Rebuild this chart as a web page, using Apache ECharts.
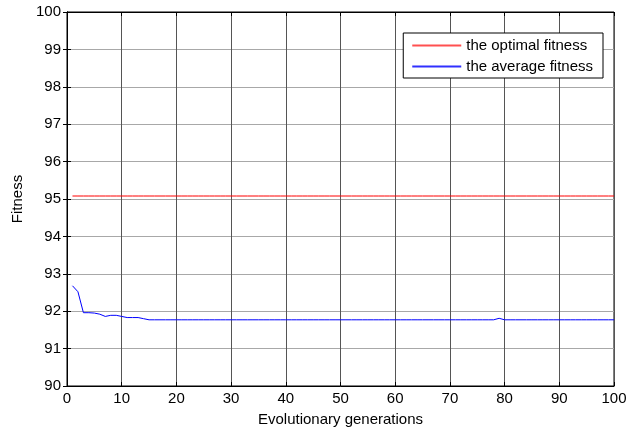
<!DOCTYPE html>
<html>
<head>
<meta charset="utf-8">
<script src="https://cdn.jsdelivr.net/npm/echarts@6/dist/echarts.min.js"></script>
<style>
  html, body { margin: 0; padding: 0; background: #fff; }
  #chart { width: 627px; height: 435px; }
</style>
</head>
<body>
<div id="chart"></div>
<script>
// generations 1..100
var generations = [
  1, 2, 3, 4, 5, 6, 7, 8, 9, 10, 11, 12, 13, 14, 15, 16, 17, 18, 19, 20,
  21, 22, 23, 24, 25, 26, 27, 28, 29, 30, 31, 32, 33, 34, 35, 36, 37, 38, 39, 40,
  41, 42, 43, 44, 45, 46, 47, 48, 49, 50, 51, 52, 53, 54, 55, 56, 57, 58, 59, 60,
  61, 62, 63, 64, 65, 66, 67, 68, 69, 70, 71, 72, 73, 74, 75, 76, 77, 78, 79, 80,
  81, 82, 83, 84, 85, 86, 87, 88, 89, 90, 91, 92, 93, 94, 95, 96, 97, 98, 99, 100
];
var optimalFitness = [
  95.08, 95.08, 95.08, 95.08, 95.08, 95.08, 95.08, 95.08, 95.08, 95.08,
  95.08, 95.08, 95.08, 95.08, 95.08, 95.08, 95.08, 95.08, 95.08, 95.08,
  95.08, 95.08, 95.08, 95.08, 95.08, 95.08, 95.08, 95.08, 95.08, 95.08,
  95.08, 95.08, 95.08, 95.08, 95.08, 95.08, 95.08, 95.08, 95.08, 95.08,
  95.08, 95.08, 95.08, 95.08, 95.08, 95.08, 95.08, 95.08, 95.08, 95.08,
  95.08, 95.08, 95.08, 95.08, 95.08, 95.08, 95.08, 95.08, 95.08, 95.08,
  95.08, 95.08, 95.08, 95.08, 95.08, 95.08, 95.08, 95.08, 95.08, 95.08,
  95.08, 95.08, 95.08, 95.08, 95.08, 95.08, 95.08, 95.08, 95.08, 95.08,
  95.08, 95.08, 95.08, 95.08, 95.08, 95.08, 95.08, 95.08, 95.08, 95.08,
  95.08, 95.08, 95.08, 95.08, 95.08, 95.08, 95.08, 95.08, 95.08, 95.08
];
var averageFitness = [
  92.68, 92.52, 91.96, 91.96, 91.95, 91.92, 91.86, 91.89, 91.89, 91.86,
  91.83, 91.83, 91.83, 91.80, 91.77, 91.77, 91.77, 91.77, 91.77, 91.77,
  91.77, 91.77, 91.77, 91.77, 91.77, 91.77, 91.77, 91.77, 91.77, 91.77,
  91.77, 91.77, 91.77, 91.77, 91.77, 91.77, 91.77, 91.77, 91.77, 91.77,
  91.77, 91.77, 91.77, 91.77, 91.77, 91.77, 91.77, 91.77, 91.77, 91.77,
  91.77, 91.77, 91.77, 91.77, 91.77, 91.77, 91.77, 91.77, 91.77, 91.77,
  91.77, 91.77, 91.77, 91.77, 91.77, 91.77, 91.77, 91.77, 91.77, 91.77,
  91.77, 91.77, 91.77, 91.77, 91.77, 91.77, 91.77, 91.77, 91.81, 91.77,
  91.77, 91.77, 91.77, 91.77, 91.77, 91.77, 91.77, 91.77, 91.77, 91.77,
  91.77, 91.77, 91.77, 91.77, 91.77, 91.77, 91.77, 91.77, 91.77, 91.77
];

function pairs(xs, ys) {
  return xs.map(function (x, i) { return [x, ys[i]]; });
}

var font = 'Arial, "Liberation Sans", sans-serif';
var chart = echarts.init(document.getElementById('chart'));

var option = {
  animation: false,
  backgroundColor: '#fff',
  textStyle: { fontFamily: font },
  grid: {
    left: 67, right: 13, top: 12, bottom: 49,
    outerBoundsMode: 'none',
    show: true, borderColor: '#000', borderWidth: 1
  },
  legend: {
    orient: 'vertical',
    right: 24, top: 33,
    padding: [5, 10, 4, 9],
    itemGap: 6,
    itemWidth: 49, itemHeight: 2,
    icon: 'rect',
    backgroundColor: '#fff',
    borderColor: '#000', borderWidth: 1,
    borderRadius: 0,
    textStyle: { fontSize: 15, color: '#000', fontFamily: font },
    data: [
      { name: 'the optimal fitness', itemStyle: { color: '#ff5050' } },
      { name: 'the average fitness', itemStyle: { color: '#3030ff' } }
    ]
  },
  xAxis: [{
    type: 'value', min: 0, max: 100, interval: 10,
    name: 'Evolutionary generations', nameLocation: 'middle', nameGap: 26,
    nameTextStyle: { fontSize: 15, color: '#000' },
    axisLine: { show: true, lineStyle: { color: '#000' } },
    axisTick: { show: true, inside: true, length: 4, lineStyle: { color: '#000' } },
    axisLabel: { fontSize: 15, color: '#000', margin: 5 },
    splitLine: { show: true, lineStyle: { color: '#555', width: 1 } }
  }, {
    type: 'value', position: 'top', min: 0, max: 100, interval: 10,
    axisLine: { show: true, lineStyle: { color: '#000' } },
    axisTick: { show: true, inside: true, length: 4, lineStyle: { color: '#000' } },
    axisLabel: { show: false },
    splitLine: { show: false }
  }],
  yAxis: [{
    type: 'value', min: 90, max: 100, interval: 1,
    name: 'Fitness', nameLocation: 'middle', nameGap: 41,
    nameTextStyle: { fontSize: 15, color: '#000' },
    axisLine: { show: true, lineStyle: { color: '#000' } },
    axisTick: { show: true, inside: true, length: 4, lineStyle: { color: '#000' } },
    axisLabel: { fontSize: 15, color: '#000', margin: 6 },
    splitLine: { show: true, lineStyle: { color: '#a8a8a8', width: 1 } }
  }, {
    type: 'value', position: 'right', min: 90, max: 100, interval: 1,
    axisLine: { show: true, lineStyle: { color: '#000' } },
    axisTick: { show: true, inside: true, length: 4, lineStyle: { color: '#000' } },
    axisLabel: { show: false },
    splitLine: { show: false }
  }],
  series: [{
    name: 'the optimal fitness',
    type: 'line',
    data: pairs(generations, optimalFitness),
    showSymbol: false,
    itemStyle: { color: '#ff0000' },
    lineStyle: { color: '#ff0000', width: 1 }
  }, {
    name: 'the average fitness',
    type: 'line',
    data: pairs(generations, averageFitness),
    showSymbol: false,
    itemStyle: { color: '#0000ff' },
    lineStyle: { color: '#0000ff', width: 1 }
  }]
};
chart.setOption(option);
</script>
</body>
</html>
